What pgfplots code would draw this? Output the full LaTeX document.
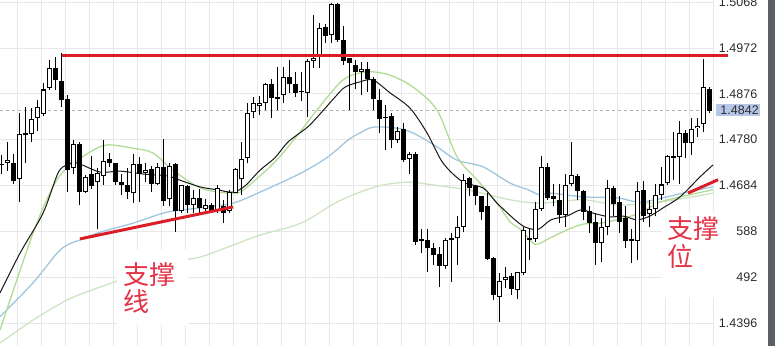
\documentclass[border=0pt]{standalone}
\usepackage{pgfplots}
\pgfplotsset{compat=1.18}
\usepackage{pgfplotstable}
\usepackage{fontspec}
\setmainfont{Liberation Sans}
\newfontfamily\cjk{Noto Sans CJK SC}
\definecolor{gridc}{RGB}{232,232,232}
\definecolor{ma1}{RGB}{25,25,25}
\definecolor{ma2}{RGB}{178,220,150}
\definecolor{ma3}{RGB}{160,198,222}
\definecolor{ma4}{RGB}{205,228,195}
\definecolor{redl}{RGB}{218,30,40}
\definecolor{redt}{RGB}{228,50,70}
\definecolor{hl}{RGB}{182,198,230}
\definecolor{strip}{RGB}{92,96,102}
\definecolor{lab}{RGB}{45,45,45}

\pgfplotstableread{
i o h l c
0 1.4727 1.4748 1.4709 1.4729
1 1.4730 1.4776 1.4715 1.4737
2 1.4732 1.4750 1.4687 1.4693
3 1.4697 1.4835 1.4650 1.4791
4 1.4793 1.4848 1.4730 1.4789
5 1.4791 1.4847 1.4774 1.4823
6 1.4825 1.4863 1.4799 1.4848
7 1.4834 1.4899 1.4830 1.4885
8 1.4889 1.4947 1.4884 1.4931
9 1.4931 1.4954 1.4884 1.4904
10 1.4903 1.4961 1.4848 1.4862
11 1.4865 1.4874 1.4671 1.4716
12 1.4720 1.4779 1.4709 1.4770
13 1.4770 1.4776 1.4643 1.4671
14 1.4671 1.4706 1.4669 1.4701
15 1.4709 1.4746 1.4676 1.4682
16 1.4692 1.4720 1.4592 1.4711
17 1.4704 1.4779 1.4685 1.4736
18 1.4739 1.4753 1.4723 1.4730
19 1.4730 1.4730 1.4685 1.4692
20 1.4692 1.4709 1.4665 1.4684
21 1.4684 1.4720 1.4655 1.4671
22 1.4668 1.4750 1.4648 1.4728
23 1.4728 1.4744 1.4650 1.4709
24 1.4711 1.4730 1.4692 1.4716
25 1.4718 1.4725 1.4671 1.4688
26 1.4688 1.4730 1.4685 1.4723
27 1.4723 1.4781 1.4640 1.4652
28 1.4655 1.4730 1.4640 1.4725
29 1.4729 1.4730 1.4587 1.4631
30 1.4631 1.4685 1.4626 1.4684
31 1.4683 1.4685 1.4626 1.4643
32 1.4643 1.4675 1.4626 1.4657
33 1.4657 1.4676 1.4627 1.4636
34 1.4634 1.4655 1.4626 1.4643
35 1.4643 1.4647 1.4626 1.4631
36 1.4631 1.4685 1.4626 1.4678
37 1.4640 1.4654 1.4606 1.4626
38 1.4631 1.4675 1.4626 1.4671
39 1.4669 1.4720 1.4668 1.4718
40 1.4697 1.4776 1.4664 1.4739
41 1.4741 1.4856 1.4730 1.4835
42 1.4837 1.4870 1.4825 1.4856
43 1.4850 1.4871 1.4832 1.4856
44 1.4856 1.4898 1.4842 1.4896
45 1.4896 1.4908 1.4825 1.4867
46 1.4870 1.4933 1.4842 1.4865
47 1.4874 1.4933 1.4856 1.4911
48 1.4912 1.4947 1.4877 1.4896
49 1.4896 1.4922 1.4870 1.4878
50 1.4880 1.4922 1.4860 1.4879
51 1.4877 1.4948 1.4827 1.4945
52 1.4945 1.5041 1.4929 1.4952
53 1.4954 1.5024 1.4929 1.5013
54 1.5015 1.5022 1.4982 1.4997
55 1.4999 1.5067 1.4982 1.5064
56 1.5064 1.5067 1.4985 1.4989
57 1.4989 1.5017 1.4936 1.4945
58 1.4950 1.4950 1.4842 1.4940
59 1.4936 1.4947 1.4885 1.4922
60 1.4922 1.4943 1.4874 1.4928
61 1.4928 1.4943 1.4880 1.4907
62 1.4907 1.4911 1.4842 1.4865
63 1.4863 1.4887 1.4793 1.4823
64 1.4828 1.4853 1.4758 1.4825
65 1.4830 1.4835 1.4762 1.4779
66 1.4779 1.4806 1.4772 1.4799
67 1.4802 1.4814 1.4734 1.4737
68 1.4739 1.4755 1.4709 1.4750
69 1.4750 1.4755 1.4559 1.4566
70 1.4571 1.4592 1.4542 1.4568
71 1.4570 1.4592 1.4503 1.4552
72 1.4552 1.4563 1.4517 1.4538
73 1.4540 1.4556 1.4472 1.4516
74 1.4516 1.4573 1.4510 1.4570
75 1.4570 1.4584 1.4482 1.4573
76 1.4573 1.4619 1.4517 1.4596
77 1.4596 1.4709 1.4587 1.4695
78 1.4699 1.4702 1.4661 1.4678
79 1.4682 1.4685 1.4643 1.4661
80 1.4661 1.4661 1.4612 1.4629
81 1.4640 1.4668 1.4528 1.4529
82 1.4531 1.4535 1.4444 1.4454
83 1.4451 1.4500 1.4399 1.4484
84 1.4485 1.4514 1.4469 1.4492
85 1.4494 1.4500 1.4455 1.4468
86 1.4466 1.4503 1.4446 1.4502
87 1.4500 1.4598 1.4496 1.4591
88 1.4573 1.4592 1.4528 1.4570
89 1.4571 1.4650 1.4566 1.4634
90 1.4634 1.4746 1.4631 1.4722
91 1.4722 1.4732 1.4654 1.4658
92 1.4661 1.4688 1.4640 1.4655
93 1.4654 1.4686 1.4605 1.4622
94 1.4622 1.4709 1.4598 1.4685
95 1.4686 1.4776 1.4682 1.4706
96 1.4704 1.4709 1.4654 1.4673
97 1.4672 1.4675 1.4612 1.4629
98 1.4631 1.4640 1.4584 1.4606
99 1.4608 1.4626 1.4517 1.4564
100 1.4563 1.4615 1.4524 1.4598
101 1.4598 1.4695 1.4580 1.4678
102 1.4679 1.4682 1.4619 1.4645
103 1.4649 1.4661 1.4584 1.4608
104 1.4615 1.4640 1.4554 1.4568
105 1.4568 1.4592 1.4521 1.4572
106 1.4568 1.4692 1.4528 1.4672
107 1.4675 1.4693 1.4608 1.4620
108 1.4624 1.4654 1.4598 1.4634
109 1.4634 1.4688 1.4619 1.4664
110 1.4664 1.4723 1.4654 1.4686
111 1.4690 1.4748 1.4685 1.4746
112 1.4746 1.4797 1.4695 1.4741
113 1.4743 1.4818 1.4688 1.4793
114 1.4793 1.4800 1.4741 1.4772
115 1.4772 1.4825 1.4748 1.4802
116 1.4804 1.4825 1.4786 1.4809
117 1.4812 1.4948 1.4795 1.4890
118 1.4887 1.4890 1.4835 1.4841
}\candles

\begin{document}
\begin{tikzpicture}
\begin{axis}[name=ax, at={(0,0)}, anchor=south west,
  scale only axis, width=713pt, height=346pt,
  xmin=-0.25, xmax=118.58, ymin=1.43477, ymax=1.50725,
  clip=false,
  axis line style={draw=none},
  tick style={draw=none},
  xtick={2.58,6.58,...,119}, xticklabels={},
  ytick={1.4396,1.4492,1.4588,1.4684,1.4780,1.4876,1.4972,1.5068},
  yticklabels={1.4396,492,588,1.4684,1.4780,1.4876,1.4972,1.5068},
  ytick pos=right, yticklabel pos=right,
  yticklabel style={anchor=west, inner sep=0pt, text width=41pt, align=right,
    xshift=3pt, font=\fontsize{12.5}{14}\selectfont, text=lab},
  xmajorgrids, ymajorgrids,
  grid style={gridc, line width=0.8pt},
  extra y ticks={1.4842}, extra y tick labels={1.4842},
  extra y tick style={major grid style={dash pattern=on 3pt off 3pt, color=black!30, line width=0.8pt},
    yticklabel style={fill=hl, inner ysep=2pt, inner xsep=1.5pt}},
]
% moving averages
\addplot[ma4, line width=1.3pt, smooth] coordinates {(-0.25,1.4354) (5.25,1.4402) (10.92,1.4444) (15.08,1.4465) (19.75,1.4486) (27.58,1.4522) (33.08,1.4534) (38.58,1.4559) (43.08,1.4580) (49.92,1.4605) (55.58,1.4647) (59.75,1.4670) (63.58,1.4685) (68.08,1.4691) (71.92,1.4685) (77.58,1.4675) (84.75,1.4654) (89.75,1.4647) (96.92,1.4654) (102.58,1.4643) (108.08,1.4647) (114.25,1.4658) (118.58,1.4668)};
\addplot[ma3, line width=1.3pt, smooth] coordinates {(-0.25,1.4409) (5.25,1.4480) (9.25,1.4542) (10.92,1.4559) (13.08,1.4570) (16.42,1.4586) (21.92,1.4605) (27.58,1.4628) (33.08,1.4637) (38.58,1.4647) (43.08,1.4670) (49.92,1.4710) (54.42,1.4744) (57.75,1.4779) (59.75,1.4794) (61.92,1.4806) (65.92,1.4804) (68.58,1.4794) (72.58,1.4765) (75.92,1.4737) (80.25,1.4723) (84.75,1.4689) (87.75,1.4675) (89.75,1.4664) (91.42,1.4668) (96.92,1.4660) (102.58,1.4658) (106.42,1.4649) (110.92,1.4660) (114.25,1.4670) (118.58,1.4681)};
\addplot[ma2, line width=1.3pt, smooth] coordinates {(-0.25,1.4381) (5.25,1.4584) (8.58,1.4681) (10.92,1.4721) (14.75,1.4754) (17.58,1.4769) (21.92,1.4762) (25.25,1.4752) (28.58,1.4716) (33.08,1.4679) (37.58,1.4668) (39.75,1.4670) (42.25,1.4695) (44.75,1.4723) (46.92,1.4752) (49.75,1.4796) (52.58,1.4842) (56.92,1.4905) (60.92,1.4922) (64.75,1.4915) (68.58,1.4890) (72.58,1.4842) (75.92,1.4744) (79.25,1.4696) (82.58,1.4647) (84.75,1.4608) (86.58,1.4591) (88.92,1.4561) (91.42,1.4574) (94.25,1.4591) (96.92,1.4603) (99.75,1.4605) (102.58,1.4612) (106.42,1.4626) (109.25,1.4647) (113.08,1.4660) (118.58,1.4675)};
\addplot[ma1, line width=1pt, smooth] coordinates {(-0.25,1.4459) (3.08,1.4542) (6.92,1.4626) (9.42,1.4710) (10.92,1.4727) (12.58,1.4731) (16.42,1.4712) (19.75,1.4714) (23.58,1.4708) (27.58,1.4704) (29.75,1.4695) (33.08,1.4681) (35.92,1.4675) (38.58,1.4670) (40.58,1.4683) (43.08,1.4716) (45.58,1.4742) (47.75,1.4775) (51.08,1.4807) (53.25,1.4836) (55.58,1.4869) (57.25,1.4890) (59.75,1.4901) (61.92,1.4905) (64.75,1.4878) (68.08,1.4846) (70.92,1.4794) (73.58,1.4731) (76.92,1.4691) (80.25,1.4679) (82.58,1.4647) (85.58,1.4612) (87.25,1.4597) (89.42,1.4592) (91.58,1.4612) (94.25,1.4620) (96.58,1.4633) (98.58,1.4626) (101.42,1.4618) (103.58,1.4620) (105.92,1.4612) (108.08,1.4620) (110.25,1.4637) (113.08,1.4660) (116.42,1.4702) (118.58,1.4727)};
% wicks
\addplot[draw=none, mark=none, error bars/.cd, y dir=plus, y explicit, error mark=none,
  error bar style={draw=black, line width=1.1pt}]
  table[x=i, y=l, y error plus expr={\thisrow{h}-\thisrow{l}}] {\candles};
% bodies (black)
\addplot[draw=none, mark=none, error bars/.cd, y dir=plus, y explicit, error mark=none,
  error bar style={draw=black, line width=5pt}]
  table[x=i, y expr={min(\thisrow{o},\thisrow{c})}, y error plus expr={max(abs(\thisrow{c}-\thisrow{o}),0.0002)}] {\candles};
% hollow interior of rising candles
\addplot[draw=none, mark=none, error bars/.cd, y dir=plus, y explicit, error mark=none,
  error bar style={draw=white, line width=2.8pt}]
  table[x=i, y expr={\thisrow{o}+0.00021}, y error plus expr={max(\thisrow{c}-\thisrow{o}-0.00042,0)}] {\candles};
% red lines
\addplot[redl, line width=3pt] coordinates {(10.08,1.4957) (121.08,1.4957)};
\addplot[redl, line width=3pt] coordinates {(13.08,1.4572) (38.58,1.4639)};
\addplot[redl, line width=3pt] coordinates {(114.42,1.4668) (119.42,1.4696)};
% annotation boxes
\fill[white] (axis cs:19.25,1.45488) rectangle (axis cs:31.08,1.43917);
\fill[white] (axis cs:110.08,1.46284) rectangle (axis cs:122.25,1.44483);
\node[anchor=north west, inner sep=0pt, align=left, text=redt, font={\cjk\fontsize{26}{27}\selectfont}] at (axis cs:20.25,1.45237) {支撑\\线};
\node[anchor=north west, inner sep=0pt, align=left, text=redt, font={\cjk\fontsize{26}{27}\selectfont}] at (axis cs:110.92,1.4618) {支撑\\位};
\end{axis}
\fill[strip] ([xshift=55pt]ax.south east) rectangle ([xshift=62pt]ax.north east);
\pgfresetboundingbox
\path[use as bounding box] (ax.south west) rectangle ([xshift=62pt]ax.north east);
\end{tikzpicture}
\end{document}
